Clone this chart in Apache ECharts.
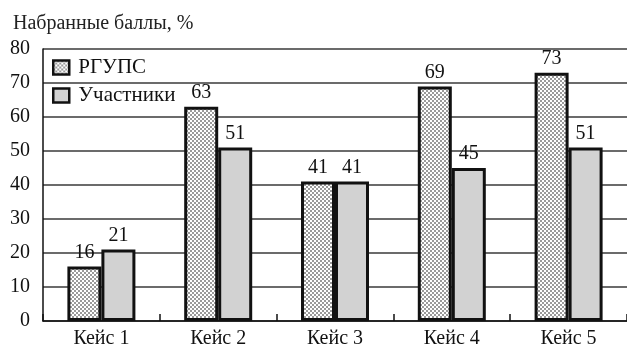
<!DOCTYPE html>
<html><head><meta charset="utf-8">
<script src="https://cdn.jsdelivr.net/npm/echarts@6/dist/echarts.min.js"></script>
<style>html,body{margin:0;padding:0;background:#fff}#c{width:627px;height:349px}</style>
</head><body><div id="c"></div>
<script>
const categories = ['Кейс 1','Кейс 2','Кейс 3','Кейс 4','Кейс 5'];
const rgups = [16, 63, 41, 69, 73];
const participants = [21, 51, 41, 45, 51];
const seriesNames = ['РГУПС', 'Участники'];
const yTitle = 'Набранные баллы, %';

const FONT = 'Liberation Serif';
const tile = document.createElement('canvas');
tile.width = 4; tile.height = 4;
const tc = tile.getContext('2d');
tc.fillStyle = '#ffffff'; tc.fillRect(0,0,4,4);
tc.fillStyle = '#9a9a9a';
tc.fillRect(0,0,2,2); tc.fillRect(2,2,2,2);
const hatch = {image: tile, repeat: 'repeat'};

const chart = echarts.init(document.getElementById('c'), null, {renderer:'canvas'});
const labelStyle = {show:true, position:'top', distance:4, color:'#111', fontFamily:FONT, fontSize:20};
chart.setOption({
  animation:false,
  backgroundColor:'#fff',
  title:{text:yTitle, left:8, top:9, textStyle:{fontFamily:FONT, fontSize:20, fontWeight:'normal', color:'#222'}},
  legend:{orient:'vertical', left:52, top:57, padding:0, itemWidth:16, itemHeight:14, itemGap:7, icon:'rect',
    itemStyle:{borderColor:'#111', borderWidth:2.5},
    textStyle:{fontFamily:FONT, fontSize:21, lineHeight:21, color:'#111', padding:[0,0,0,4]},
    data:seriesNames},
  grid:{left:43, right:-11, top:49, bottom:28, containLabel:false},
  xAxis:{type:'category', data:categories,
    axisLine:{show:true, lineStyle:{color:'#111', width:1.5}},
    axisTick:{show:true, inside:true, length:7, lineStyle:{color:'#111', width:1.5}},
    axisLabel:{fontFamily:FONT, fontSize:20, color:'#111', margin:8}},
  yAxis:{type:'value', min:0, max:80, interval:10,
    axisLine:{show:true, lineStyle:{color:'#111', width:1.5}},
    axisTick:{show:false},
    axisLabel:{fontFamily:FONT, fontSize:20, color:'#111', margin:13},
    splitLine:{show:true, lineStyle:{color:'#3a3a3a', width:1.5}}},
  series:[
    {name:seriesNames[0], type:'bar', data:rgups, barWidth:34, barGap:'0%',
      itemStyle:{color:hatch, borderColor:'#111', borderWidth:3}, label:labelStyle},
    {name:seriesNames[1], type:'bar', data:participants, barWidth:34,
      itemStyle:{color:'#d2d2d2', borderColor:'#111', borderWidth:3}, label:labelStyle}
  ]
});
</script></body></html>
